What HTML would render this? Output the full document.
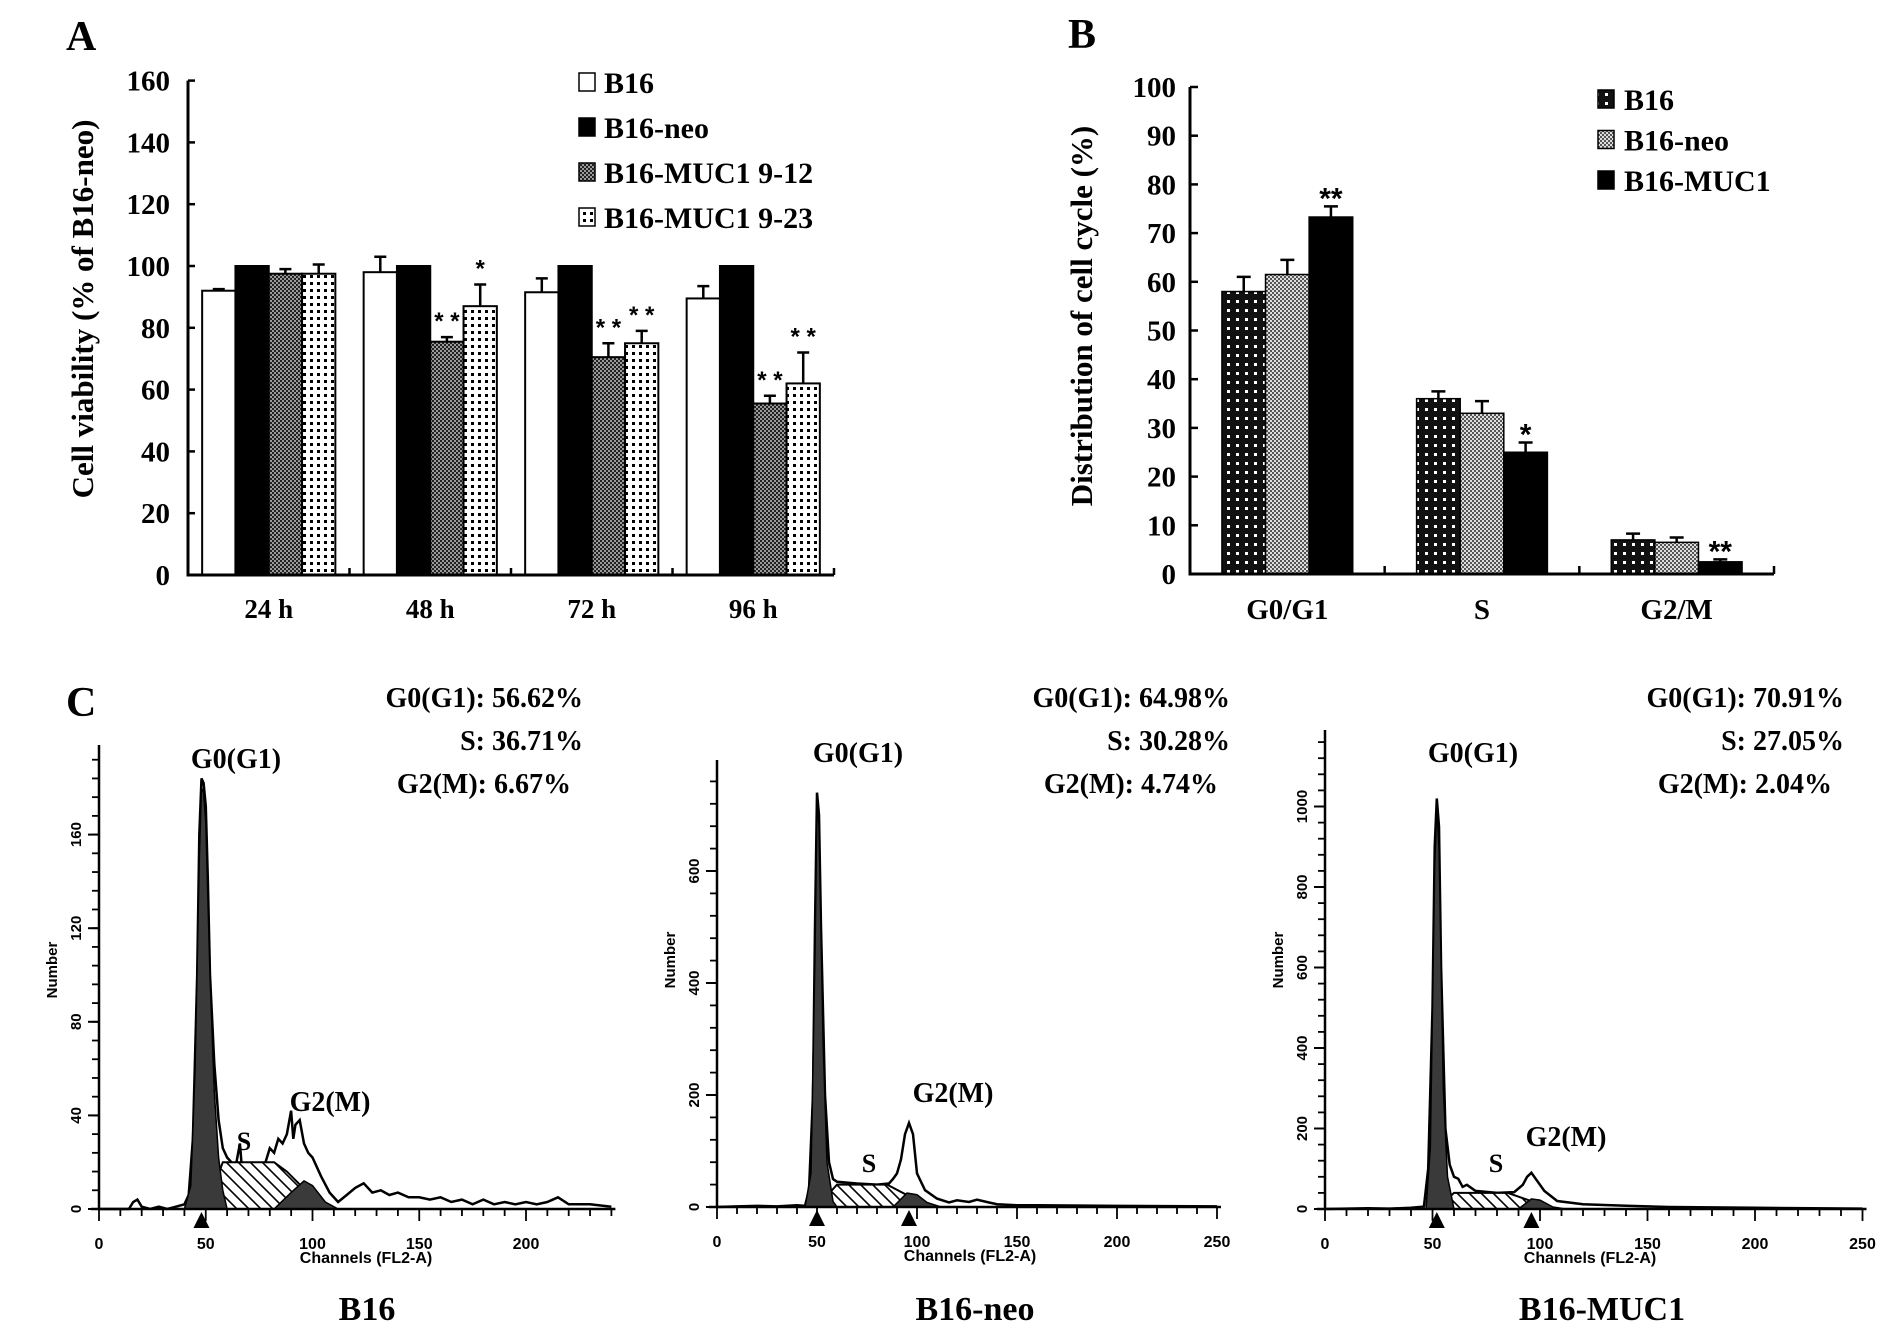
<!DOCTYPE html>
<html><head><meta charset="utf-8"><title>MUC1 cell viability and cell cycle</title>
<style>
html,body{margin:0;padding:0;background:#fff;}
svg{display:block;}
text{font-family:"Liberation Serif",serif;font-weight:bold;fill:#000;}
.sans{font-family:"Liberation Sans",sans-serif;}
</style></head>
<body>
<svg id="fig" width="1890" height="1334" viewBox="0 0 1890 1334" xmlns="http://www.w3.org/2000/svg">
<defs>
<pattern id="pDarkCheck" width="4" height="4" patternUnits="userSpaceOnUse"><rect width="4" height="4" fill="#9a9a9a"/><rect width="2" height="2" fill="#222"/><rect x="2" y="2" width="2" height="2" fill="#222"/></pattern>
<pattern id="pWhiteDots" width="7" height="7" patternUnits="userSpaceOnUse"><rect width="7" height="7" fill="#fff"/><rect x="2" y="2" width="3" height="3" fill="#000"/></pattern>
<pattern id="pBlackDots" width="9" height="9" patternUnits="userSpaceOnUse"><rect width="9" height="9" fill="#111"/><rect x="3" y="3" width="3" height="3" fill="#fff"/></pattern>
<pattern id="pLightCheck" width="4" height="4" patternUnits="userSpaceOnUse"><rect width="4" height="4" fill="#ddd"/><rect width="2" height="2" fill="#555"/><rect x="2" y="2" width="2" height="2" fill="#555"/></pattern>
<pattern id="pHatch" width="12" height="12" patternUnits="userSpaceOnUse"><rect width="12" height="12" fill="#fff"/><path d="M0,0 L12,12 M-6,6 L6,18 M6,-6 L18,6" stroke="#000" stroke-width="1.6"/></pattern>
</defs>
<g id="panelA"></g>
<g id="panelB"></g>
<g id="panelC"></g>
</svg>
<script>
// ---------- Panel A data ----------
const aCategories = ["24 h","48 h","72 h","96 h"];
const aSeriesNames = ["B16","B16-neo","B16-MUC1 9-12","B16-MUC1 9-23"];
const aB16 = [92, 98, 91.5, 89.5];
const aB16Err = [0.5, 5, 4.5, 4];
const aNeo = [100, 100, 100, 100];
const aNeoErr = [0, 0, 0, 0];
const aM912 = [97.5, 75.5, 70.5, 55.5];
const aM912Err = [1.5, 1.5, 4.5, 2.5];
const aM923 = [97.5, 87, 75, 62];
const aM923Err = [3, 7, 4, 10];
const aStars = [["","","",""],["","","* *","*"],["","","* *","* *"],["","","* *","* *"]];
const aTicks = [0,20,40,60,80,100,120,140,160];
// ---------- Panel B data ----------
const bCategories = ["G0/G1","S","G2/M"];
const bSeriesNames = ["B16","B16-neo","B16-MUC1"];
const bB16 = [58, 36, 7];
const bB16Err = [3, 1.5, 1.3];
const bNeo = [61.5, 33, 6.5];
const bNeoErr = [3, 2.5, 1];
const bMuc = [73.3, 25, 2.5];
const bMucErr = [2.2, 2, 0.5];
const bStars = [["","","**"],["","","*"],["","","**"]];
const bTicks = [0,10,20,30,40,50,60,70,80,90,100];
// ---------- Panel C data (channel, count) ----------
const c1Hist = [[0,0],[14,0],[16,3],[18,4],[20,1],[24,0],[28,1],[32,0],[36,1],[40,2],[42,6],[44,30],[46,100],[47,160],[48,184],[49,182],[50,172],[51,140],[52,100],[54,62],[56,38],[58,26],[60,22],[62,20],[64,18],[66,28],[67,17],[70,19],[74,15],[78,20],[80,26],[82,24],[84,30],[86,28],[88,32],[90,42],[91,30],[92,36],[94,38],[96,28],[98,24],[100,22],[104,14],[108,7],[112,3],[116,6],[120,9],[124,11],[128,7],[132,8],[136,6],[140,7],[145,5],[150,5],[155,4],[160,5],[165,3],[170,4],[175,2],[180,4],[185,2],[190,3],[195,2],[200,3],[205,2],[210,3],[215,5],[220,2],[230,2],[240,1]];
const c1G1 = [[40,0],[43,10],[45,60],[47,150],[48,180],[49,178],[50,165],[52,100],[54,50],[56,22],[58,8],[60,0]];
const c1S = [[50,0],[58,20],[82,20],[88,16],[100,5],[106,0]];
const c1G2 = [[82,0],[90,7],[96,12],[100,10],[106,3],[112,0]];
const c2Hist = [[0,0],[10,1],[20,2],[30,1],[40,3],[44,2],[46,30],[48,200],[49,500],[50,740],[51,700],[52,500],[54,200],[56,80],[58,50],[60,45],[70,42],[80,40],[86,42],[88,50],[90,60],[92,85],[94,130],[96,150],[98,130],[100,60],[104,30],[110,15],[116,8],[120,12],[126,9],[130,13],[136,8],[140,5],[150,3],[160,3],[200,2],[250,1]];
const c2G1 = [[44,0],[47,60],[49,450],[50,720],[51,680],[53,300],[55,80],[58,10],[60,0]];
const c2S = [[50,0],[60,40],[85,40],[100,12],[108,0]];
const c2G2 = [[88,0],[95,25],[100,22],[105,8],[112,0]];
const c3Hist = [[0,0],[20,2],[30,1],[40,3],[46,6],[48,100],[50,500],[51,900],[52,1020],[53,950],[54,600],[56,200],[58,110],[60,80],[62,75],[64,55],[66,60],[70,45],[80,40],[88,42],[92,60],[94,80],[96,90],[98,75],[102,45],[108,20],[120,12],[140,8],[160,5],[200,3],[250,1]];
const c3G1 = [[47,0],[49,150],[51,850],[52,1000],[53,900],[55,300],[57,80],[60,0]];
const c3S = [[52,0],[60,40],[85,40],[100,12],[106,0]];
const c3G2 = [[90,0],[96,25],[100,22],[106,5],[112,0]];
const c1YTicks = [0,40,80,120,160];
const c2YTicks = [0,200,400,600];
const c3YTicks = [0,200,400,600,800,1000];
const c1XTicks = [0,50,100,150,200];
const c2XTicks = [0,50,100,150,200,250];
const c3XTicks = [0,50,100,150,200,250];
const cStats = [["G0(G1): 56.62%","S: 36.71%","G2(M): 6.67%"],["G0(G1): 64.98%","S: 30.28%","G2(M): 4.74%"],["G0(G1): 70.91%","S: 27.05%","G2(M): 2.04%"]];
const cTitles = ["B16","B16-neo","B16-MUC1"];

const NS="http://www.w3.org/2000/svg";
function mk(parent,tag,attrs,txt){const e=document.createElementNS(NS,tag);for(const k in attrs)e.setAttribute(k,attrs[k]);if(txt!==undefined)e.textContent=txt;parent.appendChild(e);return e;}

// ================= PANEL A =================
(function(){
const g=document.getElementById('panelA');
const x0=188,x1=834,y0=575,yPer=3.09;
const yA=v=>y0-v*yPer;
const gw=(x1-x0)/aCategories.length, bw=33.3, off=(gw-4*bw)/2;
const t=mk(g,'text',{x:66,y:50,'font-size':42});
t.textContent='A';
const series=[[aB16,aB16Err,'#fff'],[aNeo,aNeoErr,'#000'],[aM912,aM912Err,'url(#pDarkCheck)'],[aM923,aM923Err,'url(#pWhiteDots)']];
aCategories.forEach((c,i)=>{
  series.forEach((s,j)=>{
    const bx=x0+gw*i+off+bw*j, v=s[0][i], e=s[1][i];
    const r=mk(g,'rect',{x:bx,y:yA(v),width:bw,height:y0-yA(v),fill:s[2],stroke:'#000','stroke-width':2});
    
    if(e>0){
      const l=mk(g,'path',{d:`M${bx+bw/2},${yA(v)} V${yA(v+e)} M${bx+bw/2-6},${yA(v+e)} H${bx+bw/2+6}`,stroke:'#000','stroke-width':2.5,fill:'none'});
      
    }
    const st=aStars[i][j];
    if(st){const tx=mk(g,'text',{x:bx+bw/2,y:yA(v+e)-8,'text-anchor':'middle','font-size':24,'font-weight':'normal',class:'sans',fill:'#333'},st);
      }
  });
  const lb=mk(g,'text',{x:x0+gw*(i+0.5),y:618,'text-anchor':'middle','font-size':27},c);
  
  const tk=mk(g,'line',{x1:x0+gw*(i+1),x2:x0+gw*(i+1),y1:y0,y2:y0-7,stroke:'#000','stroke-width':2.5});
  
});
const ax=mk(g,'path',{d:`M${x0},${yA(160)} V${y0} H${x1}`,stroke:'#000','stroke-width':3,fill:'none'});

aTicks.forEach(v=>{
  const tk=mk(g,'line',{x1:x0,x2:x0+7,y1:yA(v),y2:yA(v),stroke:'#000','stroke-width':2.5});
  
  const tl=mk(g,'text',{x:170,y:yA(v)+10,'text-anchor':'end','font-size':29},String(v));
  
});
const yt=mk(g,'text',{x:0,y:0,transform:'translate(93,309) rotate(-90)','text-anchor':'middle','font-size':31},'Cell viability (% of B16-neo)');

const fills=['#fff','#000','url(#pDarkCheck)','url(#pWhiteDots)'];
aSeriesNames.forEach((n,j)=>{
  const cy=82+j*45;
  const sq=mk(g,'rect',{x:579,y:cy-9,width:16,height:18,fill:fills[j],stroke:'#000','stroke-width':1.5});
  
  const lt=mk(g,'text',{x:604,y:cy+11,'font-size':30},n);
  
});
})();

// ================= PANEL B =================
(function(){
const g=document.getElementById('panelB');
const x0=1190,x1=1774,y0=574,yPer=4.87;
const yB=v=>y0-v*yPer;
const gw=(x1-x0)/bCategories.length, bw=43.6, off=(gw-3*bw)/2;
const t=mk(g,'text',{x:1068,y:48,'font-size':42},'B');

const series=[[bB16,bB16Err,'url(#pBlackDots)'],[bNeo,bNeoErr,'url(#pLightCheck)'],[bMuc,bMucErr,'#000']];
bCategories.forEach((c,i)=>{
  series.forEach((s,j)=>{
    const bx=x0+gw*i+off+bw*j, v=s[0][i], e=s[1][i];
    const r=mk(g,'rect',{x:bx,y:yB(v),width:bw,height:y0-yB(v),fill:s[2],stroke:'#000','stroke-width':1.5});
    
    const l=mk(g,'path',{d:`M${bx+bw/2},${yB(v)} V${yB(v+e)} M${bx+bw/2-7},${yB(v+e)} H${bx+bw/2+7}`,stroke:'#000','stroke-width':2.5,fill:'none'});
    
    const st=bStars[i][j];
    if(st){const tx=mk(g,'text',{x:bx+bw/2,y:yB(v+e)+2,'text-anchor':'middle','font-size':30,'font-weight':'normal',class:'sans'},st);
      }
  });
  const lb=mk(g,'text',{x:x0+gw*(i+0.5),y:619,'text-anchor':'middle','font-size':29},c);
  
  const tk=mk(g,'line',{x1:x0+gw*(i+1),x2:x0+gw*(i+1),y1:y0,y2:y0-8,stroke:'#000','stroke-width':2.5});
  
});
const ax=mk(g,'path',{d:`M${x0},${yB(100)} V${y0} H${x1}`,stroke:'#000','stroke-width':3,fill:'none'});

bTicks.forEach(v=>{
  const tk=mk(g,'line',{x1:x0,x2:x0+8,y1:yB(v),y2:yB(v),stroke:'#000','stroke-width':2.5});
  
  const tl=mk(g,'text',{x:1176,y:yB(v)+10,'text-anchor':'end','font-size':29},String(v));
  
});
const yt=mk(g,'text',{x:0,y:0,transform:'translate(1092,316) rotate(-90)','text-anchor':'middle','font-size':31},'Distribution of cell cycle (%)');

const fills=['url(#pBlackDots)','url(#pLightCheck)','#000'];
bSeriesNames.forEach((n,j)=>{
  const cy=99+j*40.5;
  const sq=mk(g,'rect',{x:1598,y:cy-9,width:16,height:18,fill:fills[j],stroke:'#000','stroke-width':1.5});
  
  const lt=mk(g,'text',{x:1624,y:cy+11,'font-size':30},n);
  
});
})();

// ================= PANEL C =================
(function(){
const g=document.getElementById('panelC');
const t=mk(g,'text',{x:66,y:716,'font-size':42},'C');

const cfg=[
 {ax:99,base:1209,xper:2.135,ymax:184,ypx:2.34,xmax:240,ytop:745,hist:c1Hist,g1:c1G1,s:c1S,g2:c1G2,yt:c1YTicks,xt:c1XTicks,ym:8,tri:[48],g1l:[236,768],sl:[244,1150],g2l:[330,1111],statX:583,titleX:367,xl:366},
 {ax:717,base:1207,xper:2.0,ymax:740,ypx:0.56,xmax:250,ytop:760,hist:c2Hist,g1:c2G1,s:c2S,g2:c2G2,yt:c2YTicks,xt:c2XTicks,ym:40,tri:[50,96],g1l:[858,762],sl:[869,1172],g2l:[953,1102],statX:1230,titleX:975,xl:970},
 {ax:1325,base:1209,xper:2.15,ymax:1020,ypx:0.4025,xmax:250,ytop:730,hist:c3Hist,g1:c3G1,s:c3S,g2:c3G2,yt:c3YTicks,xt:c3XTicks,ym:40,tri:[52,96],g1l:[1473,762],sl:[1496,1172],g2l:[1566,1146],statX:1844,titleX:1602,xl:1590}
];
cfg.forEach((c,k)=>{
  const gg=mk(g,'g',{});
  
  const X=v=>c.ax+v*c.xper, Y=v=>c.base-v*c.ypx;
  const poly=(pts)=>pts.map(p=>X(p[0]).toFixed(1)+','+Y(p[1]).toFixed(1)).join(' ');
  const h=mk(gg,'polyline',{points:poly(c.hist),fill:'#fff',stroke:'#000','stroke-width':2.5});
  
  const s=mk(gg,'polygon',{points:poly(c.s),fill:'url(#pHatch)',stroke:'#000','stroke-width':2});
  
  const g1=mk(gg,'polygon',{points:poly(c.g1),fill:'#3a3a3a',stroke:'#000','stroke-width':1.5});
  
  const g2=mk(gg,'polygon',{points:poly(c.g2),fill:'#3a3a3a',stroke:'#000','stroke-width':1.5});
  
  const a=mk(gg,'path',{d:`M${c.ax},${c.ytop} V${c.base} M${c.ax-8},${c.base} H${X(c.xmax)+4}`,stroke:'#000','stroke-width':2.5,fill:'none'});
  
  for(let v=0;Y(v)>=c.ytop;v+=c.ym){
    const tk=mk(gg,'line',{x1:c.ax-7,x2:c.ax,y1:Y(v),y2:Y(v),stroke:'#000','stroke-width':1.8});
    
  }
  for(let v=0;v<=c.xmax;v+=10){
    const tk=mk(gg,'line',{x1:X(v),x2:X(v),y1:c.base,y2:c.base+(v%50===0?12:7),stroke:'#000','stroke-width':1.8});
    
  }
  c.yt.forEach(v=>{
    const tl=mk(gg,'text',{x:0,y:0,transform:`translate(${c.ax-18},${Y(v)}) rotate(-90)`,'text-anchor':'middle','font-size':15,class:'sans'},String(v));
    
    const tk=mk(gg,'line',{x1:c.ax-11,x2:c.ax,y1:Y(v),y2:Y(v),stroke:'#000','stroke-width':2});
    
  });
  c.xt.forEach(v=>{
    const tl=mk(gg,'text',{x:X(v),y:c.base+40,'text-anchor':'middle','font-size':16,class:'sans'},String(v));
    
  });
  c.tri.forEach(v=>{
    const tr=mk(gg,'polygon',{points:`${X(v)-8},${c.base+19} ${X(v)+8},${c.base+19} ${X(v)},${c.base+3}`,fill:'#000'});
    
  });
  const xl=mk(gg,'text',{x:c.xl,y:c.base+54,'text-anchor':'middle','font-size':16,class:'sans'},'Channels (FL2-A)');
  
  const yl=mk(gg,'text',{x:0,y:0,transform:`translate(${c.ax-42},${k===0?970:960}) rotate(-90)`,'text-anchor':'middle','font-size':15,class:'sans'},'Number');
  
  const l1=mk(gg,'text',{x:c.g1l[0],y:c.g1l[1],'text-anchor':'middle','font-size':28,'font-weight':'normal'},'G0(G1)');
  
  const l2=mk(gg,'text',{x:c.sl[0],y:c.sl[1],'text-anchor':'middle','font-size':26,'font-weight':'normal'},'S');
  
  const l3=mk(gg,'text',{x:c.g2l[0],y:c.g2l[1],'text-anchor':'middle','font-size':28,'font-weight':'normal'},'G2(M)');
  
  cStats[k].forEach((st,r)=>{
    const sx=mk(gg,'text',{x:c.statX-(r===2?12:0),y:707+r*43,'text-anchor':'end','font-size':28},st);
    
  });
  const tt=mk(gg,'text',{x:c.titleX,y:1320,'text-anchor':'middle','font-size':34},cTitles[k]);
  
});
})();
</script>
</body></html>
